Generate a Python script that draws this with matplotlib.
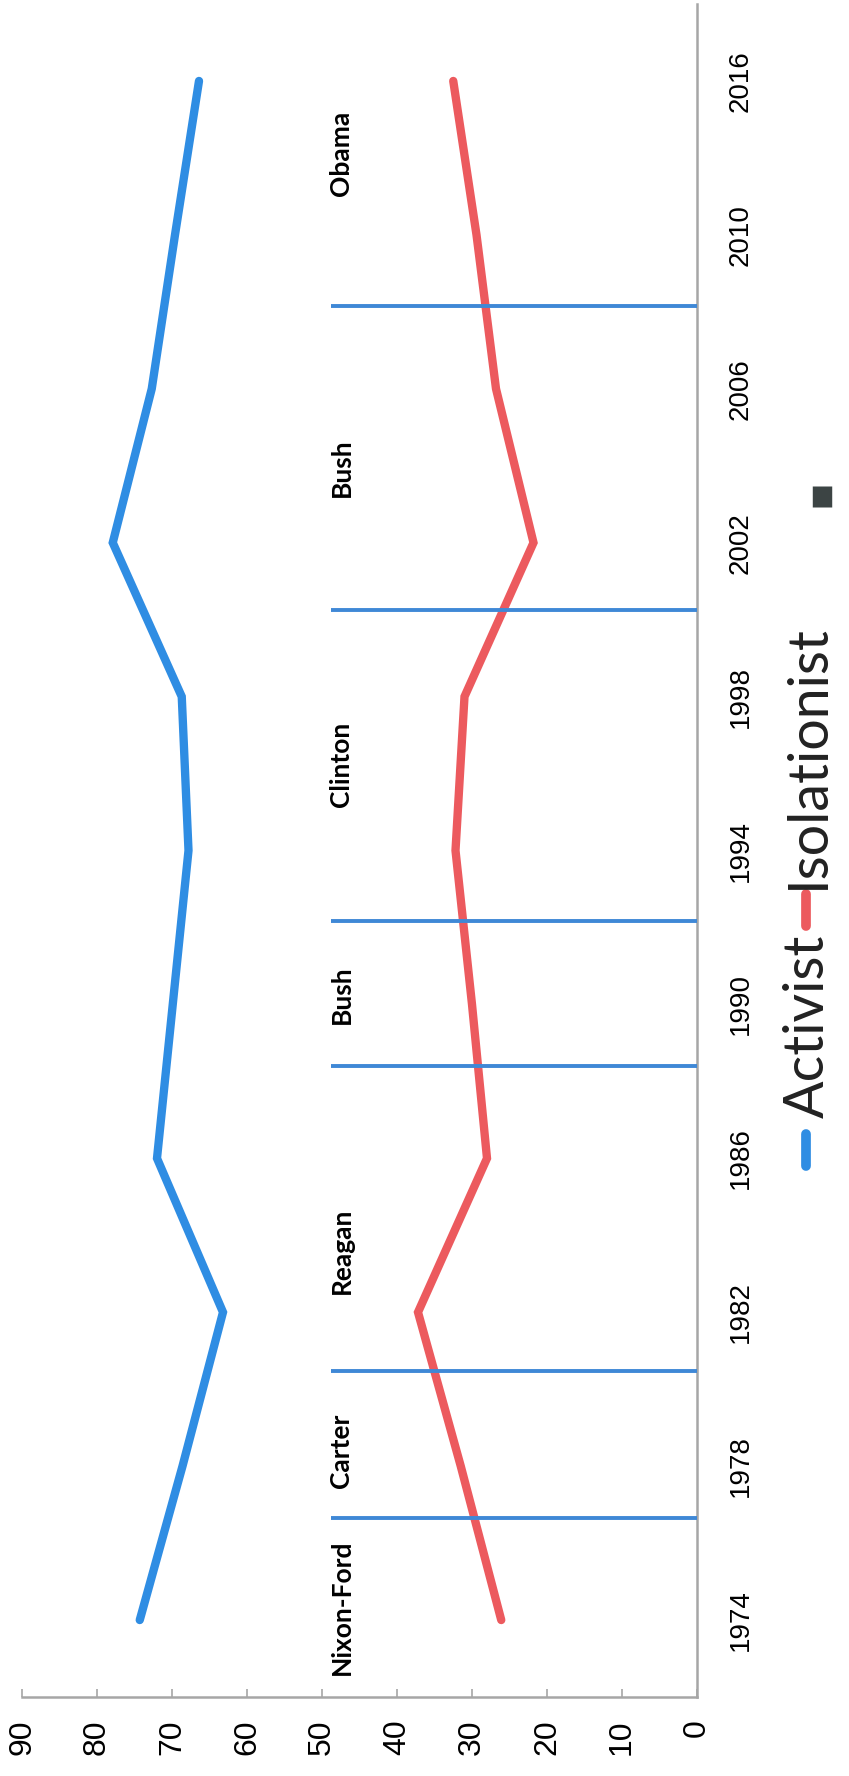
import matplotlib
matplotlib.use('Agg')
import matplotlib.pyplot as plt
from matplotlib.lines import Line2D

# ---- data ----
years = ['1974', '1978', '1982', '1986', '1990', '1994', '1998', '2002', '2006', '2010', '2016']
activist = [74.3, 68.6, 63.2, 72.0, 69.9, 67.8, 68.7, 77.9, 72.7, 69.6, 66.4]
isolationist = [26.1, 31.5, 37.2, 28.0, 30.0, 32.2, 31.0, 21.8, 26.8, 29.4, 32.5]
presidents = ['Nixon-Ford', 'Carter', 'Reagan', 'Bush', 'Clinton', 'Bush', 'Obama']
president_pos = [0.08, 1.10, 2.40, 4.06, 5.56, 7.49, 9.53]   # category positions
divider_pos = [0.66, 1.62, 3.60, 4.54, 6.56, 8.54]           # category positions
divider_top = 48.8
president_label_value = 47.4
value_ticks = [0, 10, 20, 30, 40, 50, 60, 70, 80, 90]
series_names = ['Activist', 'Isolationist', '']

BLUE = '#2f8de3'
RED = '#ec5a5e'
DIV = '#3f88d6'
AXIS = '#a6a6a6'
LEGGRAY = '#3c4444'

W, H = 849, 1776
fig = plt.figure(figsize=(W / 100, H / 100), dpi=100)
left_px, right_px, top_px, bottom_px = 22, 697, 4, 1697
ax = fig.add_axes([left_px / W, (H - bottom_px) / H,
                   (right_px - left_px) / W, (bottom_px - top_px) / H])

idx = list(range(len(years)))
ax.plot(activist, idx, color=BLUE, lw=6, solid_capstyle='round',
        solid_joinstyle='miter', zorder=2)
ax.plot(isolationist, idx, color=RED, lw=6, solid_capstyle='round',
        solid_joinstyle='miter', zorder=2)
ax.hlines(divider_pos, 0, divider_top, color=DIV, lw=2.8, zorder=3)

for name, p in zip(presidents, president_pos):
    ax.text(president_label_value, p, name, rotation=90, ha='center', va='center',
            fontsize=19, fontweight='bold', family='Lato', color='black')

ax.set_xlim(90, 0)
ax.set_ylim(-0.5, len(years) - 0.5)

for s in ['top', 'left']:
    ax.spines[s].set_visible(False)
for s in ['bottom', 'right']:
    ax.spines[s].set_color(AXIS)
    ax.spines[s].set_linewidth(1.8)

ax.set_xticks(value_ticks)
ax.set_xticklabels([str(v) for v in value_ticks], rotation=90, fontsize=23,
                   family='Liberation Sans', color='black')
ax.tick_params(axis='x', direction='in', length=6, color=AXIS, width=1.2, pad=16)

ax.yaxis.tick_right()
ax.set_yticks(idx)
ax.set_yticklabels(years, rotation=90, va='center', fontsize=20,
                   family='Liberation Sans', color='black')
ax.tick_params(axis='y', length=0, pad=22)

# ---- legend (rotated, drawn by hand) ----
def fx(px):
    return px / W

def fy(py):
    return (H - py) / H

fig.add_artist(Line2D([fx(806), fx(806)], [fy(1166), fy(1134)], color=BLUE, lw=7,
                      solid_capstyle='round'))
fig.text(fx(808), fy(1026), series_names[0], rotation=90, ha='center', va='center',
         fontsize=40, family='Lato', color='#222222')
fig.add_artist(Line2D([fx(806), fx(806)], [fy(926), fy(894)], color=RED, lw=7,
                      solid_capstyle='round'))
fig.text(fx(808), fy(757), series_names[1], rotation=90, ha='center', va='center',
         fontsize=40, family='Lato', color='#222222')
fig.add_artist(Line2D([fx(822), fx(822)], [fy(507), fy(486)], color=LEGGRAY, lw=14,
                      solid_capstyle='butt'))

fig.savefig('out.png', dpi=100, facecolor='white')
